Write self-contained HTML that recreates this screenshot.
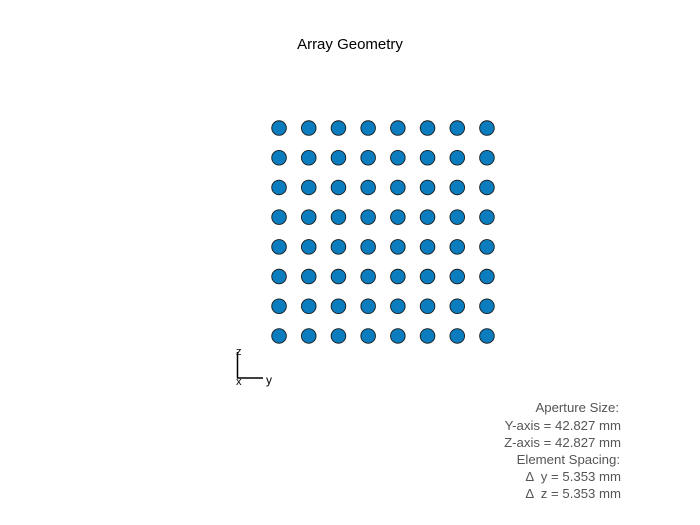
<!DOCTYPE html>
<html><head><meta charset="utf-8"><style>body{margin:0;background:#fff}svg{display:block;font-family:"Liberation Sans",sans-serif}</style></head>
<body>
<svg id="chart" width="700" height="525" viewBox="0 0 700 525">
<rect width="700" height="525" fill="#fff"/>
<text x="350" y="49" text-anchor="middle" font-size="15" fill="#000">Array Geometry</text>
<g id="elements"></g>
<g stroke="#000" stroke-width="1.5" fill="none">
<line x1="237.5" y1="352" x2="237.5" y2="378"/>
<line x1="237" y1="378" x2="263" y2="378"/>
</g>
<text x="236" y="355" font-size="11">z</text>
<text x="236" y="385" font-size="11">x</text>
<text x="266" y="384" font-size="12">y</text>
<g font-size="13.2" fill="#555" text-anchor="end">
<text x="619" y="412">Aperture Size:</text>
<text x="621" y="430">Y-axis = 42.827 mm</text>
<text x="621" y="447">Z-axis = 42.827 mm</text>
<text x="620" y="464">Element Spacing:</text>
<text x="621" y="481" xml:space="preserve">Δ  y = 5.353 mm</text>
<text x="621" y="498" xml:space="preserve">Δ  z = 5.353 mm</text>
</g>
</svg>
<script>
const yPositions = [-18.7355,-13.3825,-8.0295,-2.6765,2.6765,8.0295,13.3825,18.7355];
const zPositions = [-18.7355,-13.3825,-8.0295,-2.6765,2.6765,8.0295,13.3825,18.7355];
const pxPerMm = 29.7/5.353;
function xScale(v){return 383+v*pxPerMm;}
function yScale(v){return 232-v*pxPerMm;}
const g=document.getElementById('elements');
const ns='http://www.w3.org/2000/svg';
zPositions.forEach((z,i)=>{yPositions.forEach((y,j)=>{
  const c=document.createElementNS(ns,'circle');
  c.setAttribute('cx',xScale(y));c.setAttribute('cy',yScale(z));c.setAttribute('r',7.3);
  c.setAttribute('fill','#0b7dbe');c.setAttribute('stroke','#1a1a1a');c.setAttribute('stroke-width','0.9');
  
  
  g.appendChild(c);
});});
</script>
</body></html>
